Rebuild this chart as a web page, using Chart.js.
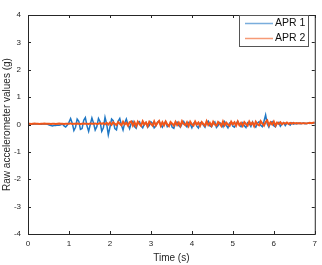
<!DOCTYPE html>
<html>
<head>
<meta charset="utf-8">
<script src="https://cdn.jsdelivr.net/npm/chart.js@4"></script>
<style>
  html, body { margin: 0; padding: 0; background: #fff; }
  #wrap { width: 322px; height: 265px; }
</style>
</head>
<body>
<div id="wrap"><canvas id="chart"></canvas></div>
<script>
// sampling step of the recording (s)
const dt = 0.04;

const xTicks = [0, 1, 2, 3, 4, 5, 6, 7];
const yTicks = [-4, -3, -2, -1, 0, 1, 2, 3, 4];

const apr1 = [
  0.02, 0.03, 0.02, 0.01, 0.02, 0.03, 0.02, 0.02, 0.01, 0.02, 0.03, 0.02, 0.01,
  -0.02, -0.04, -0.05, -0.03, -0.04, -0.02, -0.03, -0.01, 0.02, -0.05, -0.09, -0.02,
  0.08, 0.22, 0.05, -0.22, -0.1, 0.2, 0.12, -0.18, -0.15, 0.15,
  0.25, -0.05, -0.25, 0.0, 0.24, 0.05, -0.2, -0.08, 0.22, 0.1,
  -0.25, -0.12, 0.26, 0.02, -0.38, -0.1, 0.2, 0.14, -0.15, -0.2,
  0.12, 0.22, -0.02, -0.2, 0.05, 0.2, 0.0, -0.15,
  0.05, 0.12, -0.08, -0.14, 0.06, 0.1, -0.05, -0.12, 0.02, 0.08,
  -0.1, -0.04, 0.1, 0.04, -0.12, -0.06, 0.08, 0.12, -0.02, -0.1,
  0.04, 0.1, -0.08, -0.03, 0.06, -0.1, -0.14, 0.05, 0.09, -0.04,
  -0.1, 0.03, 0.11, 0.0, -0.09, 0.07, 0.02, -0.12, 0.04, 0.1,
  -0.06, -0.13, 0.05, 0.08, -0.02, -0.1, 0.06, 0.12, -0.05, -0.08,
  0.03, 0.09, -0.11, -0.04, 0.07, 0.02, -0.09, 0.1, -0.03, -0.12,
  0.05, 0.08, -0.06, -0.1, 0.04, 0.11, -0.02, -0.08, 0.06, -0.05,
  -0.11, 0.07, 0.03, -0.07, 0.09, -0.04, -0.1, 0.05, 0.1, -0.03,
  -0.08, 0.12, 0.35, 0.02, -0.1, 0.06, 0.1, -0.05, -0.09, 0.04,
  0.08, -0.06, 0.02, 0.07, -0.04, 0.05, 0.03, -0.02, 0.06, 0.01,
  0.04, 0.02, 0.05, 0.03, 0.04, 0.05, 0.03, 0.04, 0.05, 0.04, 0.05, 0.06, 0.05
];

const apr2 = [
  0.03, 0.03, 0.02, 0.03, 0.04, 0.03, 0.03, 0.02, 0.03, 0.03, 0.04, 0.03, 0.03,
  0.03, 0.02, 0.03, 0.03, 0.02, 0.03, 0.04, 0.03, 0.03, 0.02, 0.03, 0.03,
  0.03, 0.04, 0.02, 0.03, 0.03, 0.04, 0.03, 0.02, 0.03, 0.04,
  0.03, 0.03, 0.02, 0.04, 0.03, 0.03, 0.04, 0.02, 0.03, 0.05,
  0.02, 0.05, 0.01, 0.06, 0.0, 0.07, -0.01, 0.08, 0.02, -0.02,
  0.09, 0.03, -0.03, 0.1, 0.0, 0.06, -0.04, 0.08,
  0.11, -0.04, 0.08, -0.06, 0.1, 0.01, -0.05, 0.12, 0.0, 0.07,
  -0.06, 0.1, 0.02, -0.04, 0.11, -0.03, 0.06, 0.13, -0.05, 0.08,
  -0.03, 0.11, 0.0, -0.06, 0.09, 0.03, -0.04, 0.1, -0.02, 0.07,
  -0.05, 0.12, 0.02, -0.03, 0.08, -0.06, 0.1, 0.01, -0.04, 0.11,
  0.0, 0.07, -0.05, 0.09, 0.02, -0.04, 0.12, -0.02, 0.06, -0.05,
  0.1, 0.0, -0.04, 0.09, 0.03, -0.06, 0.11, -0.03, 0.07, 0.0,
  -0.05, 0.1, 0.01, 0.08, -0.04, 0.11, -0.02, 0.06, -0.05, 0.09,
  0.02, -0.04, 0.11, 0.0, 0.07, -0.06, 0.1, 0.01, -0.03, 0.12,
  0.03, -0.04, 0.09, 0.15, -0.03, 0.08, 0.0, 0.11, -0.04, 0.07,
  0.02, 0.08, 0.01, 0.06, 0.03, 0.07, 0.02, 0.06, 0.03, 0.06,
  0.04, 0.05, 0.04, 0.05, 0.04, 0.05, 0.05, 0.04, 0.05, 0.06, 0.05, 0.06, 0.07
];

const blue = '#1f77c4';
const orange = '#f0561a';
const axisColor = '#262626';
const fontFamily = '"Liberation Sans", Arial, sans-serif';

function toPoints(vals) {
  return vals.map((v, i) => ({ x: +(i * dt).toFixed(2), y: v }));
}

// MATLAB style box with inward ticks and an inset legend
const boxPlugin = {
  id: 'box',
  afterDatasetsDraw(chart) {
    const { ctx, chartArea: a, scales } = chart;
    ctx.save();
    ctx.strokeStyle = axisColor;
    ctx.lineWidth = 1;
    ctx.strokeRect(a.left + 0.5, a.top + 0.5, a.right - a.left, a.bottom - a.top);
    ctx.beginPath();
    xTicks.forEach(t => {
      const x = Math.round(scales.x.getPixelForValue(t)) + 0.5;
      ctx.moveTo(x, a.bottom); ctx.lineTo(x, a.bottom - 3);
      ctx.moveTo(x, a.top); ctx.lineTo(x, a.top + 3);
    });
    yTicks.forEach(t => {
      const y = Math.round(scales.y.getPixelForValue(t)) + 0.5;
      ctx.moveTo(a.left, y); ctx.lineTo(a.left + 3, y);
      ctx.moveTo(a.right, y); ctx.lineTo(a.right - 3, y);
    });
    ctx.stroke();

    const lx = 239, ly = 15, lw = 69, lh = 31;
    ctx.fillStyle = '#fff';
    ctx.fillRect(lx, ly, lw, lh);
    ctx.strokeStyle = '#555';
    ctx.strokeRect(lx + 0.5, ly + 0.5, lw, lh);
    ctx.font = '10.5px ' + fontFamily;
    ctx.textBaseline = 'middle';
    chart.data.datasets.forEach((ds, i) => {
      const y = ly + 8.5 + i * 15;
      ctx.strokeStyle = ds.borderColor;
      ctx.globalAlpha = 0.6;
      ctx.lineWidth = 1.5;
      ctx.beginPath();
      ctx.moveTo(lx + 6, y); ctx.lineTo(lx + 34, y);
      ctx.stroke();
      ctx.globalAlpha = 1;
      ctx.fillStyle = '#111';
      ctx.fillText(ds.label, lx + 36, y);
    });
    ctx.restore();
  }
};

new Chart(document.getElementById('chart'), {
  type: 'line',
  data: {
    datasets: [
      { label: 'APR 1', data: toPoints(apr1), borderColor: blue, borderWidth: 1.5, order: 1 },
      { label: 'APR 2', data: toPoints(apr2), borderColor: orange, borderWidth: 2, order: 0 }
    ]
  },
  options: {
    responsive: true,
    maintainAspectRatio: false,
    animation: false,
    events: [],
    layout: { padding: { top: 15, right: 4, left: 1, bottom: 0 } },
    elements: { point: { radius: 0 }, line: { tension: 0 } },
    plugins: { legend: { display: false }, tooltip: { enabled: false } },
    scales: {
      x: {
        type: 'linear', min: 0, max: 7,
        grid: { display: false, drawTicks: false },
        border: { display: false },
        afterBuildTicks: s => { s.ticks = xTicks.map(v => ({ value: v })); },
        afterFit: s => { s.height = 31; },
        ticks: { color: axisColor, padding: 5, maxRotation: 0, font: { family: fontFamily, size: 8 } },
        title: { display: true, text: 'Time (s)', color: axisColor, padding: { top: 2, bottom: 1 },
                 font: { family: fontFamily, size: 10 } }
      },
      y: {
        min: -4, max: 4,
        grid: { display: false, drawTicks: false },
        border: { display: false },
        afterBuildTicks: s => { s.ticks = yTicks.map(v => ({ value: v })); },
        afterFit: s => { s.width = 27; },
        ticks: { color: axisColor, padding: 7, font: { family: fontFamily, size: 8 } },
        title: { display: true, text: 'Raw accelerometer values (g)', color: axisColor, padding: { top: 0, bottom: 2 },
                 font: { family: fontFamily, size: 10 } }
      }
    }
  },
  plugins: [boxPlugin]
});
</script>
</body>
</html>
